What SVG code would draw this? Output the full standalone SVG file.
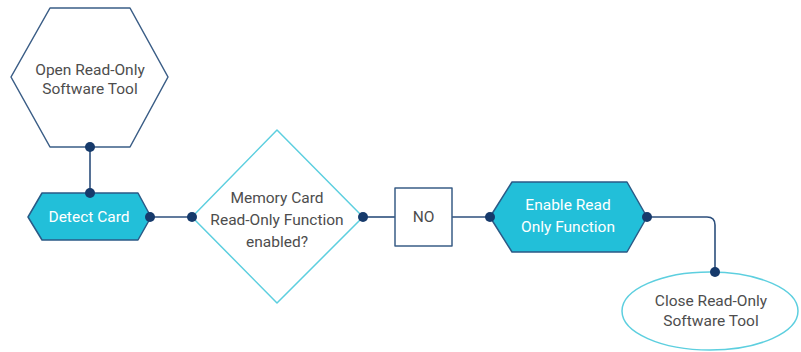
<svg xmlns="http://www.w3.org/2000/svg" width="801" height="352" viewBox="0 0 801 352">
<style>
.lbl{font-family:Roboto,"Liberation Sans",sans-serif;font-size:15.5px;fill:#4d4d4d;text-anchor:middle;dominant-baseline:central}
.wlbl{font-family:Roboto,"Liberation Sans",sans-serif;font-size:15.5px;fill:#fff;text-anchor:middle;dominant-baseline:central}
.outline{fill:#fff;stroke:#3a5d86;stroke-width:1.5;stroke-linejoin:round}
.cyanfill{fill:#22bfd9;stroke:#2b5a86;stroke-width:1.5;stroke-linejoin:round}
.light{fill:#fff;stroke:#5dcfdf;stroke-width:1.5;stroke-linejoin:round}
.conn{fill:none;stroke:#2c4f7c;stroke-width:1.6}
.dot{fill:#163a6b}
</style>
<rect width="801" height="352" fill="#fff"/>
<g id="connectors">
<path class="conn" d="M90 147 V193"/>
<path class="conn" d="M150 217 H192"/>
<path class="conn" d="M363 217 H395"/>
<path class="conn" d="M452 217 H490"/>
<path class="conn" d="M647 217 H707 Q715 217 715 225 V272"/>
</g>
<g id="open-tool">
<polygon class="outline" points="50,8 130,8 168,77 130,147 50,147 11,77"/>
<text class="lbl" x="90" y="70">Open Read-Only</text>
<text class="lbl" x="90" y="89">Software Tool</text>
</g>
<g id="detect-card">
<polygon class="cyanfill" points="42,193 138,193 151,217 138,240 42,240 28,217"/>
<text class="wlbl" x="89" y="217">Detect Card</text>
</g>
<g id="decision">
<polygon class="light" points="277,130 363,217 277,303 192,217"/>
<text class="lbl" x="277" y="198">Memory Card</text>
<text class="lbl" x="277" y="220">Read-Only Function</text>
<text class="lbl" x="277" y="242">enabled?</text>
</g>
<g id="no-box">
<rect class="outline" x="395" y="188" width="57" height="58"/>
<text class="lbl" x="423.5" y="217">NO</text>
</g>
<g id="enable">
<polygon class="cyanfill" points="512,182 627,182 647,217 627,252 512,252 490,217"/>
<text class="wlbl" x="568" y="205">Enable Read</text>
<text class="wlbl" x="568" y="227">Only Function</text>
</g>
<g id="close-tool">
<ellipse class="light" cx="710" cy="311" rx="88" ry="39"/>
<text class="lbl" x="711" y="301">Close Read-Only</text>
<text class="lbl" x="711" y="321">Software Tool</text>
</g>
<g id="dots">
<circle class="dot" cx="90" cy="147" r="5"/>
<circle class="dot" cx="90" cy="193" r="5"/>
<circle class="dot" cx="150" cy="217" r="5"/>
<circle class="dot" cx="192" cy="217" r="5"/>
<circle class="dot" cx="363" cy="217" r="5"/>
<circle class="dot" cx="490" cy="217" r="5"/>
<circle class="dot" cx="647" cy="217" r="5"/>
<circle class="dot" cx="715" cy="272" r="5"/>
</g>
</svg>
